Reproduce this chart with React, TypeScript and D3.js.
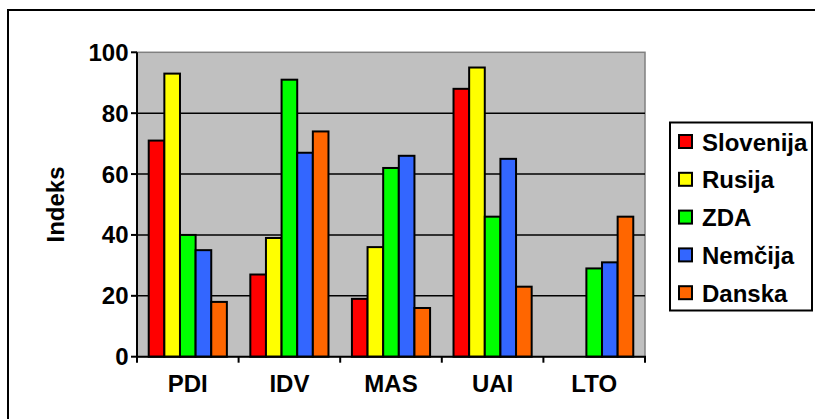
import React from "react";
import * as d3 from "d3";

const categories = ["PDI", "IDV", "MAS", "UAI", "LTO"];
const seriesNames = ["Slovenija", "Rusija", "ZDA", "Nemčija", "Danska"];
const seriesColors = ["#FF0000", "#FFFF00", "#00FF00", "#3366FF", "#FF6600"];
const slovenija = [71, 27, 19, 88, null];
const rusija = [93, 39, 36, 95, null];
const zda = [40, 91, 62, 46, 29];
const nemcija = [35, 67, 66, 65, 31];
const danska = [18, 74, 16, 23, 46];
const yTicks = [0, 20, 40, 60, 80, 100];

const seriesValues = [slovenija, rusija, zda, nemcija, danska];

const W = 815;
const H = 419;
const plot = { left: 137, right: 645, top: 52.3, bottom: 356.7 };
const FONT = "'Liberation Sans', Arial, Helvetica, sans-serif";

export default function App() {
  const x = d3.scaleBand<string>().domain(categories).range([plot.left, plot.right]).padding(0);
  const step = x.bandwidth();
  const groupW = (step * 5) / 6.5;
  const gap = step - groupW;
  const inner = d3
    .scaleBand<string>()
    .domain(seriesNames)
    .range([gap / 2, gap / 2 + groupW])
    .padding(0);
  const y = d3.scaleLinear().domain([0, 100]).range([plot.bottom, plot.top]);

  const legendX = 670;
  const legendY = 122.5;
  const legendBaseline0 = 150.5;
  const legendStep = 37.8;

  return (
    <svg
      width={W}
      height={H}
      style={{ position: "absolute", left: 0, top: 0, display: "block" }}
      fontFamily={FONT}
      fontWeight="bold"
    >
      <rect x={0} y={0} width={W} height={H} fill="#FFFFFF" />
      {/* outer chart border */}
      <rect x={8} y={10} width={830} height={430} fill="none" stroke="#000" strokeWidth={2} />

      {/* plot area */}
      <rect
        x={plot.left}
        y={plot.top}
        width={plot.right - plot.left}
        height={plot.bottom - plot.top}
        fill="#C0C0C0"
        stroke="#808080"
        strokeWidth={1.5}
      />

      {/* gridlines */}
      {yTicks
        .filter((t) => t > 0 && t < 100)
        .map((t) => (
          <line
            key={"g" + t}
            x1={plot.left}
            x2={plot.right}
            y1={y(t)}
            y2={y(t)}
            stroke="#000"
            strokeWidth={1.6}
          />
        ))}

      {/* bars */}
      {categories.map((c, ci) =>
        seriesNames.map((s, si) => {
          const v = seriesValues[si][ci];
          if (v == null) return null;
          const bx = (x(c) as number) + (inner(s) as number);
          return (
            <rect
              key={c + s}
              x={bx}
              y={y(v)}
              width={inner.bandwidth()}
              height={y(0) - y(v)}
              fill={seriesColors[si]}
              stroke="#000"
              strokeWidth={2}
            />
          );
        })
      )}

      {/* y axis */}
      <line x1={plot.left} x2={plot.left} y1={plot.top} y2={plot.bottom + 1} stroke="#000" strokeWidth={2} />
      {yTicks.map((t) => (
        <g key={"yt" + t}>
          <line x1={plot.left - 6} x2={plot.left} y1={y(t)} y2={y(t)} stroke="#000" strokeWidth={2} />
          <text x={128.5} y={y(t) + 8.5} textAnchor="end" fontSize={24} fill="#000">
            {t}
          </text>
        </g>
      ))}

      {/* x axis */}
      <line x1={plot.left - 1} x2={plot.right + 1} y1={plot.bottom} y2={plot.bottom} stroke="#000" strokeWidth={2} />
      {categories.map((c, ci) => (
        <line
          key={"xt" + c}
          x1={(x(c) as number) + (ci === 0 ? 0 : 0)}
          x2={x(c) as number}
          y1={plot.bottom}
          y2={plot.bottom + 6}
          stroke="#000"
          strokeWidth={2}
        />
      ))}
      <line x1={plot.right} x2={plot.right} y1={plot.bottom} y2={plot.bottom + 6} stroke="#000" strokeWidth={2} />
      {categories.map((c) => (
        <text
          key={"xl" + c}
          x={(x(c) as number) + step / 2}
          y={392}
          textAnchor="middle"
          fontSize={24}
          fill="#000"
        >
          {c}
        </text>
      ))}

      {/* y axis title */}
      <text
        transform={`translate(63.5, 204.5) rotate(-90)`}
        textAnchor="middle"
        fontSize={24}
        fill="#000"
      >
        Indeks
      </text>

      {/* legend */}
      <rect x={legendX} y={legendY} width={142} height={188} fill="#FFFFFF" stroke="#000" strokeWidth={2} />
      {seriesNames.map((s, i) => {
        const base = legendBaseline0 + i * legendStep;
        return (
          <g key={"lg" + s}>
            <rect x={679} y={base - 15.5} width={13} height={13} fill={seriesColors[i]} stroke="#000" strokeWidth={2} />
            <text x={702} y={base} fontSize={24} fill="#000">
              {s}
            </text>
          </g>
        );
      })}
    </svg>
  );
}
